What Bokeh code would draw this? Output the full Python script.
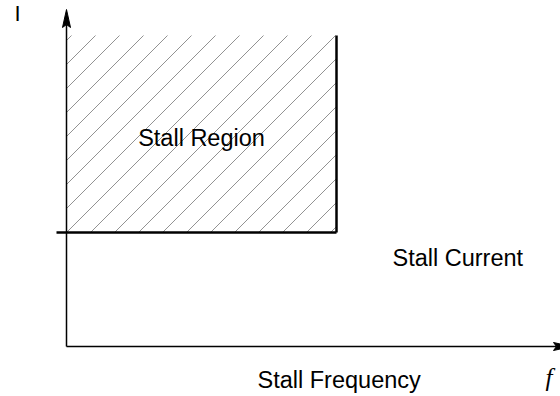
import numpy as np
from bokeh.plotting import figure
from bokeh.models import Range1d
from bokeh.core.properties import value
from bokeh.embed import file_html
from bokeh.resources import INLINE

# ---- schematic values (1 unit = 1 px on screen) ----
stall_frequency = [0, 270]      # frequency span of the stall region
stall_current = [114, 311]      # current span of the stall region
axis_ends = [505, 337]          # end of f-axis, end of I-axis
labels = ["Stall Region", "Stall Current", "Stall Frequency", "f", "I"]

W, H = 560, 396
OX, OY = 66, 346   # screen position of the origin
p = figure(width=W, height=H, output_backend="svg", toolbar_location=None,
           x_range=Range1d(-OX, W - OX), y_range=Range1d(OY - H, OY),
           min_border=0, outline_line_color=None)
p.axis.visible = False
p.grid.visible = False
p.background_fill_color = "white"
p.border_fill_color = "white"

x0, x1 = stall_frequency
y0, y1 = stall_current

# ---- hatch of the stall region: 45 deg lines y - x = k, anchored at lower-left corner ----
spacing = 24
m_lo = int(np.floor(((y0 - x1) - (y0 - x0)) / spacing))
m_hi = int(np.ceil(((y1 - x0) - (y0 - x0)) / spacing))
xs0, ys0, xs1, ys1 = [], [], [], []
for m in range(m_lo, m_hi + 1):
    k = (y0 - x0) + m * spacing
    xa = max(x0, y0 - k)
    xb = min(x1, y1 - k)
    if xb > xa:
        xs0.append(xa); ys0.append(xa + k)
        xs1.append(xb); ys1.append(xb + k)
p.segment(xs0, ys0, xs1, ys1, line_color="#929292", line_width=1)

# ---- region boundaries ----
p.segment([x1], [y0], [x1], [y1], line_color="black", line_width=2.5)
p.segment([x0 - 10], [y0], [x1], [y0], line_color="black", line_width=2.5)

# ---- axes with arrows ----
fx, iy = axis_ends
hl, hw, notch = 18, 4, 3
p.segment([0], [0], [fx - hl + notch], [0], line_color="black", line_width=1.5)
p.segment([0], [0], [0], [iy - hl + notch], line_color="black", line_width=1.5)
p.patches([[fx, fx - hl, fx - hl + notch, fx - hl], [0, hw, 0, -hw]],
          [[0, hw, 0, -hw], [iy, iy - hl, iy - hl + notch, iy - hl]],
          fill_color="black", line_color="black", line_width=1)

# ---- labels ----
font = value("Liberation Sans")
p.text(x=[(x0 + x1) / 2], y=[209], text=[labels[0]], text_font=font,
       text_font_size="23.5px", text_align="center", text_baseline="alphabetic",
       text_color="black")
p.text(x=[326], y=[89], text=[labels[1]], text_font=font,
       text_font_size="23.5px", text_align="left", text_baseline="alphabetic",
       text_color="black")
p.text(x=[191], y=[-33], text=[labels[2]], text_font=font,
       text_font_size="23.5px", text_align="left", text_baseline="alphabetic",
       text_color="black")
p.text(x=[479], y=[-31], text=[labels[3]], text_font=value("Liberation Serif"),
       text_font_style="italic", text_font_size="25px", text_align="left",
       text_baseline="alphabetic", text_color="black")
p.text(x=[-52], y=[333], text=[labels[4]], text_font=font,
       text_font_size="22px", text_align="left", text_baseline="alphabetic",
       text_color="black")

open("out.html", "w").write(file_html(p, INLINE))
